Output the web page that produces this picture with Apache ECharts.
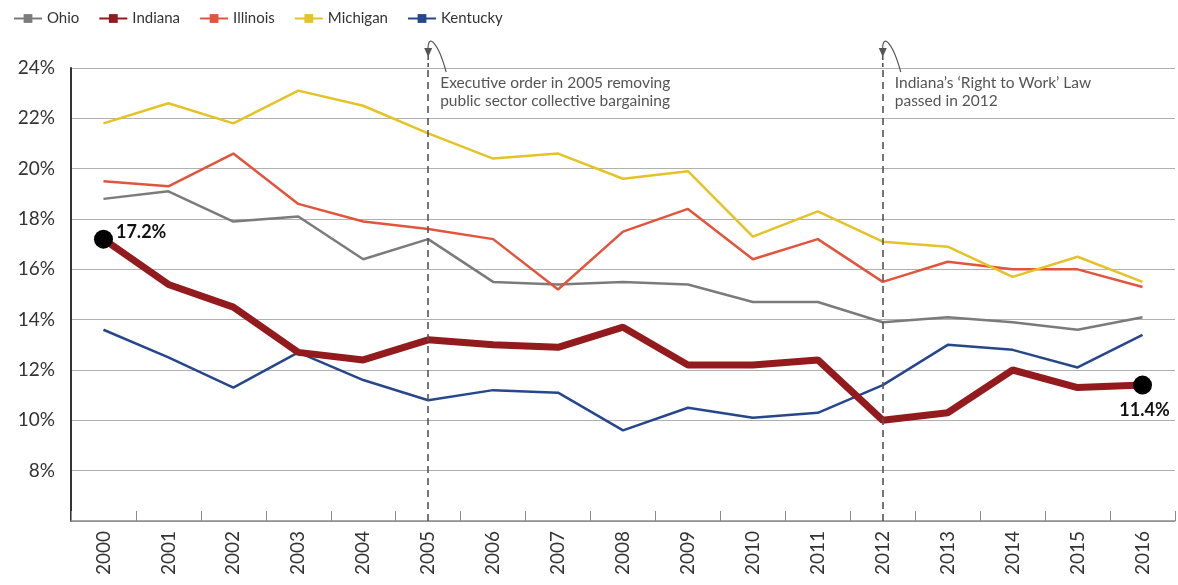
<!DOCTYPE html>
<html>
<head>
<meta charset="utf-8">
<script src="https://cdn.jsdelivr.net/npm/echarts@6/dist/echarts.min.js"></script>
<style>
  html, body { margin: 0; padding: 0; background: #fff; }
  #chart { width: 1178px; height: 585px; }
</style>
</head>
<body>
<div id="chart"></div>
<script>
// years on the x axis
const years = ['2000', '2001', '2002', '2003', '2004', '2005', '2006', '2007', '2008',
  '2009', '2010', '2011', '2012', '2013', '2014', '2015', '2016']

// union membership rate, % of workers
const ohio = [18.8, 19.1, 17.9, 18.1, 16.4, 17.2, 15.5, 15.4, 15.5, 15.4, 14.7, 14.7, 13.9, 14.1, 13.9, 13.6, 14.1]
const indiana = [17.2, 15.4, 14.5, 12.7, 12.4, 13.2, 13.0, 12.9, 13.7, 12.2, 12.2, 12.4, 10.0, 10.3, 12.0, 11.3, 11.4]
const illinois = [19.5, 19.3, 20.6, 18.6, 17.9, 17.6, 17.2, 15.2, 17.5, 18.4, 16.4, 17.2, 15.5, 16.3, 16.0, 16.0, 15.3]
const michigan = [21.8, 22.6, 21.8, 23.1, 22.5, 21.4, 20.4, 20.6, 19.6, 19.9, 17.3, 18.3, 17.1, 16.9, 15.7, 16.5, 15.5]
const kentucky = [13.6, 12.5, 11.3, 12.7, 11.6, 10.8, 11.2, 11.1, 9.6, 10.5, 10.1, 10.3, 11.4, 13.0, 12.8, 12.1, 13.4]

// annotated events
const events = [
  { year: '2005', text: 'Executive order in 2005 removing\npublic sector collective bargaining' },
  { year: '2012', text: 'Indiana\u2019s \u2018Right to Work\u2019 Law\npassed in 2012' }
]

const font = 'Lato, "Open Sans", sans-serif'

function lineSeries(name, data, color, width) {
  return {
    name: name,
    type: 'line',
    data: data,
    symbol: 'rect',
    symbolSize: 7,
    showSymbol: false,
    lineStyle: { color: color, width: width },
    itemStyle: { color: color },
    emphasis: { disabled: true },
    z: name === 'Indiana' ? 4 : 3
  }
}

const myChart = echarts.init(document.getElementById('chart'))

myChart.setOption({
  animation: false,
  textStyle: { fontFamily: font },
  legend: {
    left: 8,
    top: 6,
    itemWidth: 28,
    itemHeight: 11,
    itemGap: 19,
    textStyle: { fontSize: 15, color: '#333', fontFamily: font },
    data: ['Ohio', 'Indiana', 'Illinois', 'Michigan', 'Kentucky']
  },
  grid: { left: 71, right: 3, top: 68, bottom: 64 },
  xAxis: {
    type: 'category',
    data: years,
    boundaryGap: true,
    axisLine: { lineStyle: { color: '#8a8a8a', width: 1.5 } },
    axisTick: { show: true, inside: true, length: 10, lineStyle: { color: '#8a8a8a' } },
    axisLabel: { rotate: 90, fontSize: 19, color: '#333', margin: 10 }
  },
  yAxis: {
    type: 'value',
    min: 6,
    max: 24,
    interval: 2,
    axisLine: { show: true, lineStyle: { color: '#333', width: 2 } },
    axisTick: { show: false },
    splitLine: { lineStyle: { color: '#b0b0b0', width: 1.2 } },
    axisLabel: {
      fontSize: 19,
      color: '#333',
      margin: 16,
      formatter: v => (v === 6 ? '' : v + '%')
    }
  },
  series: [
    lineSeries('Ohio', ohio, '#7b7b7b', 2.5),
    lineSeries('Indiana', indiana, '#931a1d', 7),
    lineSeries('Illinois', illinois, '#e2553d', 2.5),
    lineSeries('Michigan', michigan, '#e5c226', 2.5),
    Object.assign(lineSeries('Kentucky', kentucky, '#27478c', 2.5), {
      markLine: {
        silent: true,
        symbol: 'none',
        lineStyle: { color: '#555', type: [7, 5], width: 1.6 },
        label: { show: false },
        data: events.map(e => [{ coord: [e.year, 6] }, { coord: [e.year, 24] }])
      }
    }),
    {
      name: 'Indiana ends',
      type: 'scatter',
      symbol: 'circle',
      symbolSize: 19,
      itemStyle: { color: '#000', opacity: 1 },
      z: 5,
      data: [
        {
          value: [0, indiana[0]],
          label: { show: true, position: 'right', offset: [-2, -7] }
        },
        {
          value: [years.length - 1, indiana[years.length - 1]],
          label: { show: true, position: 'bottom', offset: [2, 2] }
        }
      ],
      label: {
        formatter: p => p.value[1].toFixed(1) + '%',
        fontSize: 18,
        fontWeight: 'bold',
        color: '#111'
      }
    }
  ]
})

// annotation texts and curved arrows next to the dashed lines
const graphics = []
events.forEach(e => {
  const p = myChart.convertToPixel({ xAxisIndex: 0, yAxisIndex: 0 }, [e.year, 24])
  graphics.push({
    type: 'text',
    left: p[0] + 12,
    top: p[1] + 6,
    style: { text: e.text, font: '15.5px ' + font, fill: '#555', lineHeight: 18 }
  })
  graphics.push({
    type: 'bezierCurve',
    shape: { x1: p[0] + 18, y1: p[1] + 4, cpx1: p[0] + 10, cpy1: p[1] - 25, cpx2: p[0] - 2, cpy2: p[1] - 40, x2: p[0], y2: p[1] - 12 },
    style: { stroke: '#555', lineWidth: 1.2, fill: null }
  })
  graphics.push({
    type: 'polygon',
    shape: { points: [[p[0] - 4, p[1] - 20], [p[0] + 4, p[1] - 20], [p[0], p[1] - 11]] },
    style: { fill: '#555' }
  })
  graphics.push({
    type: 'line',
    shape: { x1: p[0], y1: p[1] - 12, x2: p[0], y2: p[1] },
    style: { stroke: '#555', lineWidth: 1.6, lineDash: [4, 3] }
  })
})
myChart.setOption({ graphic: graphics })
</script>
</body>
</html>
